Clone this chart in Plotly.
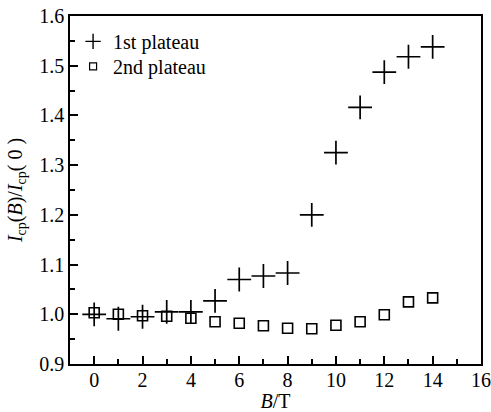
import plotly.graph_objects as go

B = [0, 1, 2, 3, 4, 5, 6, 7, 8, 9, 10, 11, 12, 13, 14]
first_plateau = [1.000, 0.991, 0.995, 1.005, 1.005, 1.027, 1.070, 1.077, 1.083,
                 1.200, 1.325, 1.416, 1.487, 1.518, 1.538]
second_plateau = [1.003, 1.000, 0.997, 0.996, 0.992, 0.985, 0.982, 0.977, 0.972,
                  0.971, 0.978, 0.985, 0.999, 1.025, 1.033]
series_names = ["1st plateau", "2nd plateau"]

FONT = "Liberation Serif, Times New Roman, serif"

fig = go.Figure()
fig.add_trace(go.Scatter(x=B, y=first_plateau, mode="markers", showlegend=False,
                         marker=dict(symbol="cross-thin-open", size=17,
                                     line=dict(width=1.7, color="black"), color="black")))
fig.add_trace(go.Scatter(x=B, y=second_plateau, mode="markers", showlegend=False,
                         marker=dict(symbol="square-open", size=10,
                                     line=dict(width=1.6, color="black"), color="black")))
# legend entries
fig.add_trace(go.Scatter(x=[None], y=[None], mode="markers", name=series_names[0],
                         legend="legend",
                         marker=dict(symbol="cross-thin-open", size=11,
                                     line=dict(width=1.4, color="black"), color="black")))
fig.add_trace(go.Scatter(x=[None], y=[None], mode="markers", name=series_names[1],
                         legend="legend2",
                         marker=dict(symbol="square-open", size=7,
                                     line=dict(width=1.2, color="black"), color="black")))

axis_common = dict(showline=True, linecolor="black", linewidth=1.5, mirror=True,
                   ticks="inside", ticklen=8, tickwidth=1.5, tickcolor="black",
                   showgrid=False, zeroline=False, automargin=False,
                   tickfont=dict(family=FONT, size=20, color="black"))

fig.update_xaxes(range=[-1, 16], tickmode="array", tickvals=list(range(0, 17, 2)),
                 ticklabelstandoff=-3,
                 minor=dict(ticks="inside", ticklen=5, tickwidth=1.5, tickcolor="black",
                            tickvals=list(range(-1, 17, 1))),
                 title=dict(text="<i>B</i>/T", font=dict(family=FONT, size=20, color="black"),
                            standoff=2),
                 **axis_common)
fig.update_yaxes(range=[0.9, 1.6], tickmode="array",
                 tickvals=[0.9, 1.0, 1.1, 1.2, 1.3, 1.4, 1.5, 1.6],
                 ticktext=["0.9", "1.0", "1.1", "1.2", "1.3", "1.4", "1.5", "1.6"],
                 minor=dict(ticks="inside", ticklen=5, tickwidth=1.5, tickcolor="black",
                            tickvals=[0.95, 1.05, 1.15, 1.25, 1.35, 1.45, 1.55]),
                 title=dict(text="<i>I</i><sub>cp</sub>(<i>B</i>)/<i>I</i><sub>cp</sub>( 0 )",
                            font=dict(family=FONT, size=20, color="black"), standoff=11),
                 **axis_common)

legend_common = dict(xanchor="left", yanchor="top", bgcolor="rgba(0,0,0,0)",
                     font=dict(family=FONT, size=20, color="black"), itemsizing="trace")
fig.update_layout(
    width=491, height=412,
    margin=dict(l=70, r=10, t=16, b=48, autoexpand=False),
    paper_bgcolor="white", plot_bgcolor="white",
    font=dict(family=FONT, size=20, color="black"),
    legend=dict(x=0.0075, y=0.983, **legend_common),
    legend2=dict(x=0.0075, y=0.911, **legend_common),
)

fig.write_html("out.html", config={"displayModeBar": False},
               post_script="document.body.style.margin='0';document.body.style.overflow='hidden';")
